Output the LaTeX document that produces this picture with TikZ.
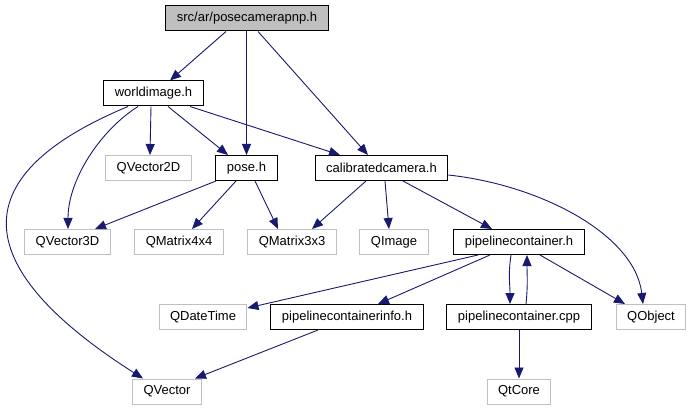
\documentclass[tikz,border=0pt]{standalone}
\usepackage{fontspec}
\setmainfont{Liberation Sans}
\usetikzlibrary{arrows.meta}

\definecolor{edgeblue}{HTML}{191970}
\definecolor{extgray}{HTML}{BFBFBF}

\begin{document}
\begin{tikzpicture}[x=1pt, y=-1pt, >={Triangle[length=11pt,width=9pt]},
        file/.style={draw=black, line width=1pt, minimum height=25pt,
            inner xsep=11pt, inner ysep=0pt, font=\fontsize{13}{15}\selectfont},
        extfile/.style={file, draw=extgray},
        dep/.style={->, draw=edgeblue, fill=none, line width=0.9pt}]
        \useasboundingbox (0,0) rectangle (692,411);

        % Draw documented files
        \node[file, fill=extgray] (root) at (247,18.5) {src/ar/posecamerapnp.h};
        \node[file] (world) at (153.5,93.5) {worldimage.h};
        \node[file] (pose) at (246.5,168) {pose.h};
        \node[file] (calib) at (381.5,168) {calibratedcamera.h};
        \node[file] (pch) at (519,242) {pipelinecontainer.h};
        \node[file] (pci) at (347,317) {pipelinecontainerinfo.h};
        \node[file] (pcc) at (519,317) {pipelinecontainer.cpp};

        % Draw external headers
        \node[extfile] (qv2d) at (148.5,168) {QVector2D};
        \node[extfile] (qv3d) at (67.5,242) {QVector3D};
        \node[extfile] (qm4) at (179,242) {QMatrix4x4};
        \node[extfile] (qm3) at (292,242) {QMatrix3x3};
        \node[extfile] (qimg) at (394,242) {QImage};
        \node[extfile] (qdt) at (203,317) {QDateTime};
        \node[extfile] (qobj) at (651,317) {QObject};
        \node[extfile] (qtcore) at (519,391.5) {QtCore};
        \node[extfile] (qvec) at (167,391.5) {QVector};

        % Draw includes of the root file
        \draw[dep] ([xshift=-21pt]root.south) -- ([xshift=16.5pt]world.north);
        \draw[dep] ([xshift=-0.5pt]root.south) -- (pose.north);
        \draw[dep] ([xshift=11pt]root.south) -- ([xshift=-13.5pt]calib.north);

        % Draw includes of worldimage.h
        \draw[dep] ([xshift=-15.5pt]world.south) .. controls +(-38,24) and +(0,-49) .. ([xshift=0.5pt]qv3d.north);
        \draw[dep] ([xshift=-25.5pt]world.south) .. controls +(-173,72) and +(-168,-107) .. ([xshift=-24pt]qvec.north);
        \draw[dep] ([xshift=-2.5pt]world.south) -- ([xshift=1.5pt]qv2d.north);
        \draw[dep] ([xshift=14.5pt]world.south) -- ([xshift=-18.5pt]pose.north);
        \draw[dep] ([xshift=36.5pt]world.south) -- ([xshift=-41.5pt]calib.north);

        % Draw includes of pose.h
        \draw[dep] ([xshift=-30.5pt]pose.south) -- ([xshift=27.5pt]qv3d.north);
        \draw[dep] ([xshift=-10.5pt]pose.south) -- ([xshift=13pt]qm4.north);
        \draw[dep] ([xshift=8.5pt]pose.south) -- ([xshift=-14pt]qm3.north);

        % Draw includes of calibratedcamera.h
        \draw[dep] ([xshift=-15.5pt]calib.south) -- ([xshift=20pt]qm3.north);
        \draw[dep] ([xshift=3.5pt]calib.south) -- ([xshift=-5pt]qimg.north);
        \draw[dep] ([xshift=21.5pt]calib.south) -- ([xshift=-27pt]pch.north);
        \draw[dep] ([yshift=-7pt]calib.east) .. controls +(93,10) and +(-8,-69) .. ([xshift=-8pt]qobj.north);

        % Draw includes of pipelinecontainer.h
        \draw[dep] ([xshift=-41pt]pch.south) -- ([yshift=-4pt]qdt.north east);
        \draw[dep] ([xshift=-29pt]pch.south) -- ([xshift=31pt]pci.north);
        \draw[dep] ([xshift=-8pt]pch.south) .. controls +(-3,20) and +(0,-20) .. ([xshift=-9pt]pcc.north);
        \draw[dep] ([xshift=21pt]pch.south) -- ([xshift=-26pt]qobj.north);

        % Draw includes of the remaining files
        \draw[dep] ([xshift=7pt]pcc.north) .. controls +(2,-20) and +(0,20) .. ([xshift=8pt]pch.south);
        \draw[dep] (pcc.south) -- (qtcore.north);
        \draw[dep] ([xshift=-29pt]pci.south) -- ([xshift=28pt]qvec.north);
\end{tikzpicture}
\end{document}
